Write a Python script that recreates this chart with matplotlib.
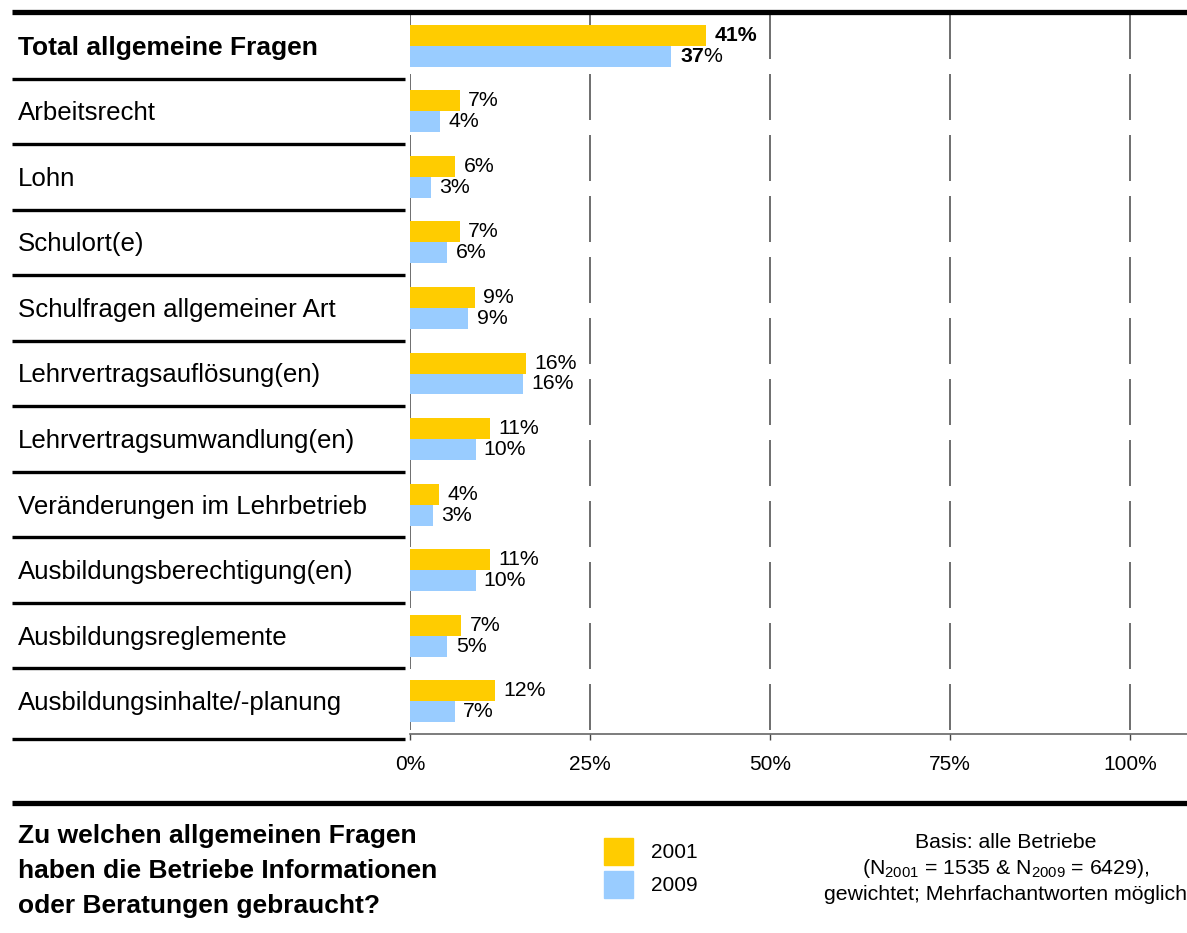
import matplotlib
matplotlib.use('Agg')
import matplotlib.pyplot as plt
import matplotlib.transforms as mtransforms
from matplotlib.patches import Patch

plt.rcParams['font.family'] = ['Liberation Sans', 'DejaVu Sans']
plt.rcParams['mathtext.fontset'] = 'custom'
plt.rcParams['mathtext.rm'] = 'Liberation Sans'
plt.rcParams['mathtext.it'] = 'Liberation Sans:italic'
plt.rcParams['mathtext.bf'] = 'Liberation Sans:bold'
plt.rcParams['lines.scale_dashes'] = False

# data
categories = ['Total allgemeine Fragen', 'Arbeitsrecht', 'Lohn', 'Schulort(e)',
              'Schulfragen allgemeiner Art', 'Lehrvertragsauflösung(en)',
              'Lehrvertragsumwandlung(en)', 'Veränderungen im Lehrbetrieb',
              'Ausbildungsberechtigung(en)', 'Ausbildungsreglemente',
              'Ausbildungsinhalte/-planung']
values_2001 = [41.1, 6.9, 6.3, 6.9, 9.0, 16.1, 11.1, 4.0, 11.1, 7.1, 11.8]
values_2009 = [36.3, 4.2, 2.9, 5.2, 8.1, 15.7, 9.1, 3.2, 9.1, 5.2, 6.2]
labels_2001 = ['41%', '7%', '6%', '7%', '9%', '16%', '11%', '4%', '11%', '7%', '12%']
labels_2009 = ['37%', '4%', '3%', '6%', '9%', '16%', '10%', '3%', '10%', '5%', '7%']
ticks = [0, 25, 50, 75, 100]
tick_labels = ['0%', '25%', '50%', '75%', '100%']
years = ['2001', '2009']

YELLOW = '#FFCC00'
BLUE = '#99CCFF'

W, H = 1187, 933


def fx(px):
    return px / W


def fy(py):
    return 1 - py / H


fig = plt.figure(figsize=(W / 100, H / 100), dpi=100)
ax_top, ax_bot = 13, 734
ax = fig.add_axes([fx(410), fy(ax_bot), fx(W - 410), (ax_bot - ax_top) / H])

n = len(categories)
ypos = list(range(n))
bh = 0.32

# dashed gridlines
ax.vlines(ticks, -0.5, n - 0.5, colors='#555555', linewidth=1.2,
          linestyles=(0, (46 * 0.72, 15 * 0.72)), zorder=1)

ax.barh([y - bh / 2 for y in ypos], values_2001, height=bh, color=YELLOW,
        label=years[0], zorder=2)
ax.barh([y + bh / 2 for y in ypos], values_2009, height=bh, color=BLUE,
        label=years[1], zorder=2)

for i in ypos:
    if i == 0:
        lab1 = labels_2001[i]
        lab2 = r'$\mathbf{' + labels_2009[i][:-1] + '}$%'
        w1 = 'bold'
    else:
        lab1 = labels_2001[i]
        lab2 = labels_2009[i]
        w1 = 'normal'
    ax.annotate(lab1, xy=(values_2001[i], i - bh / 2), xytext=(6, 0),
                textcoords='offset points', va='center', ha='left',
                fontsize=15.3, fontweight=w1)
    ax.annotate(lab2, xy=(values_2009[i], i + bh / 2), xytext=(6, 0),
                textcoords='offset points', va='center', ha='left',
                fontsize=15.3)

ax.set_ylim(n - 0.5, -0.5)
ax.set_xlim(0, (W - 410) / 7.2)
ax.set_xticks(ticks)
ax.set_xticklabels(tick_labels, fontsize=15)
ax.set_yticks([])
ax.tick_params(axis='x', direction='out', length=4, width=1, color='#444444', pad=11)
for s in ['top', 'left', 'right']:
    ax.spines[s].set_visible(False)
ax.spines['bottom'].set_color('#666666')
ax.spines['bottom'].set_linewidth(1.2)

# category labels and separators on the left
trans = mtransforms.blended_transform_factory(fig.transFigure, ax.transData)
for i, cat in enumerate(categories):
    fig.text(fx(18), i + 0.03, cat, transform=trans, va='center', ha='left',
             fontsize=19 if i == 0 else 18.6,
             fontweight='bold' if i == 0 else 'normal')
    yy = i + 0.5 if i < n - 1 else i + 0.58
    ax.plot([fx(12), fx(405)], [yy, yy], transform=trans,
            color='black', linewidth=2.4, clip_on=False, solid_capstyle='butt')

# thick horizontal rules
fig.add_artist(plt.Line2D([fx(12), 1], [fy(12), fy(12)], color='black',
                          linewidth=3.8, solid_capstyle='butt'))
fig.add_artist(plt.Line2D([fx(12), 1], [fy(803), fy(803)], color='black',
                          linewidth=3.8, solid_capstyle='butt'))

# question
question = ['Zu welchen allgemeinen Fragen',
            'haben die Betriebe Informationen',
            'oder Beratungen gebraucht?']
for k, line in enumerate(question):
    fig.text(fx(18), fy(836 + 35 * k), line, fontsize=19, fontweight='bold',
             va='center', ha='left')

# legend
handles = [Patch(color=YELLOW), Patch(color=BLUE)]
fig.legend(handles, years, loc='upper left', bbox_to_anchor=(fx(604), fy(838)),
           frameon=False, fontsize=15, borderpad=0, borderaxespad=0,
           handlelength=1.4, handleheight=1.6, handletextpad=0.85,
           labelspacing=0.3)

# footnote
foot = ['Basis: alle Betriebe',
        r'(N$_{2001}$ = 1535 & N$_{2009}$ = 6429),',
        'gewichtet; Mehrfachantworten möglich']
for k, line in enumerate(foot):
    fig.text(fx(1006), fy(843 + 26 * k), line, fontsize=15.3, va='center', ha='center')

fig.savefig('out.png', dpi=100)
